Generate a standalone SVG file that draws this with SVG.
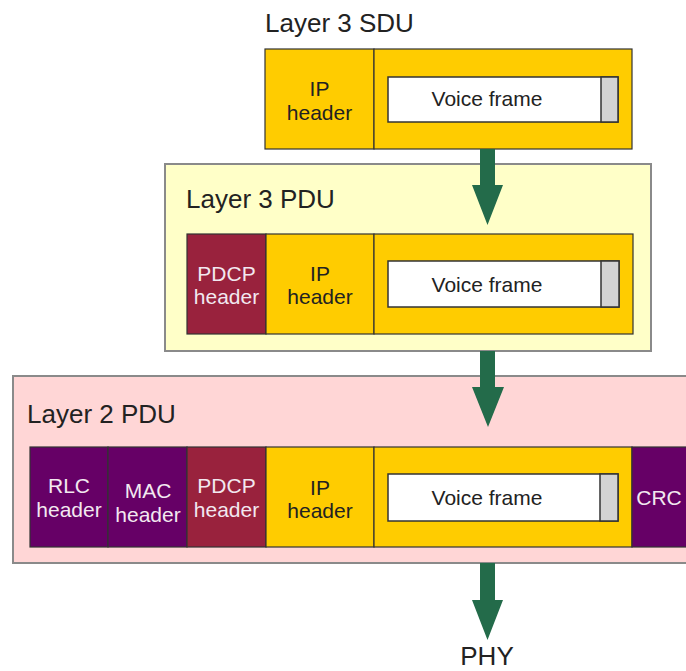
<svg xmlns="http://www.w3.org/2000/svg" width="686" height="671" viewBox="0 0 686 671">
  <style>
    .frame { stroke: #8a8a8a; stroke-width: 2; }
    .cell { stroke: #333; stroke-width: 1.2; }
    .ip { fill: #ffcc00; }
    .pdcp { fill: #99223d; }
    .mac { fill: #660066; }
    .payload { fill: #ffffff; stroke: #333; stroke-width: 1.5; }
    .pad { fill: #d3d3d3; stroke: #333; stroke-width: 1.5; }
    text { font-family: "Liberation Sans", Arial, sans-serif; }
    .title { font-size: 26px; fill: #222; }
    .lbl { font-size: 21px; text-anchor: middle; fill: #222; }
    .lbl.light { fill: #f2e8f0; }
    .arrow { fill: #236b4a; }
  </style>
  <rect width="686" height="671" fill="#ffffff"/>

  <!-- Layer 3 SDU -->
  <g id="layer3-sdu">
    <text class="title" x="265" y="32">Layer 3 SDU</text>
    <rect class="cell ip" x="265" y="49" width="109" height="100"/>
    <rect class="cell ip" x="374" y="49" width="258" height="100"/>
    <text class="lbl" x="319.5" y="96">IP</text>
    <text class="lbl" x="319.5" y="120">header</text>
    <rect class="payload" x="388" y="77" width="230" height="45"/>
    <rect class="pad" x="601" y="77" width="17" height="45"/>
    <text class="lbl" x="487" y="106">Voice frame</text>
  </g>

  <!-- Layer 3 PDU -->
  <g id="layer3-pdu">
    <rect class="frame" x="165" y="164" width="486" height="187" fill="#ffffc8"/>
    <text class="title" x="186" y="208">Layer 3 PDU</text>
    <rect class="cell pdcp" x="187" y="234" width="79" height="100"/>
    <rect class="cell ip" x="266" y="234" width="108" height="100"/>
    <rect class="cell ip" x="374" y="234" width="259" height="100"/>
    <text class="lbl light" x="226.5" y="281">PDCP</text>
    <text class="lbl light" x="226.5" y="304">header</text>
    <text class="lbl" x="320" y="281">IP</text>
    <text class="lbl" x="320" y="304">header</text>
    <rect class="payload" x="388" y="261" width="231" height="46"/>
    <rect class="pad" x="601" y="261" width="18" height="46"/>
    <text class="lbl" x="487" y="292">Voice frame</text>
  </g>

  <!-- Layer 2 PDU -->
  <g id="layer2-pdu">
    <rect class="frame" x="13" y="376" width="690" height="187" fill="#ffd6d6"/>
    <text class="title" x="27" y="423">Layer 2 PDU</text>
    <rect class="cell mac" x="30" y="447" width="78" height="100"/>
    <rect class="cell mac" x="108" y="447" width="79" height="100"/>
    <rect class="cell pdcp" x="187" y="447" width="79" height="100"/>
    <rect class="cell ip" x="266" y="447" width="108" height="100"/>
    <rect class="cell ip" x="374" y="447" width="258" height="100"/>
    <rect class="cell mac" x="632" y="447" width="60" height="100"/>
    <text class="lbl light" x="69" y="493">RLC</text>
    <text class="lbl light" x="69" y="517">header</text>
    <text class="lbl light" x="148" y="498">MAC</text>
    <text class="lbl light" x="148" y="522">header</text>
    <text class="lbl light" x="226.5" y="493">PDCP</text>
    <text class="lbl light" x="226.5" y="517">header</text>
    <text class="lbl" x="320" y="495">IP</text>
    <text class="lbl" x="320" y="518">header</text>
    <rect class="payload" x="388" y="474" width="230" height="47"/>
    <rect class="pad" x="600" y="474" width="18" height="47"/>
    <text class="lbl" x="487" y="505">Voice frame</text>
    <text class="lbl light" x="659" y="505">CRC</text>
  </g>

  <!-- PHY -->
  <g id="phy">
    <text class="title" x="487" y="665" text-anchor="middle">PHY</text>
  </g>

  <!-- Downward arrows between the layers -->
  <g id="connectors">
    <polygon class="arrow" points="480,149 495,149 495,185 503,185 487.5,225 472,185 480,185"/>
    <polygon class="arrow" points="480,351 495,351 495,387 504,387 488,427 472,387 480,387"/>
    <polygon class="arrow" points="480,563 495,563 495,600 503,600 487.5,640 472,600 480,600"/>
  </g>
</svg>
